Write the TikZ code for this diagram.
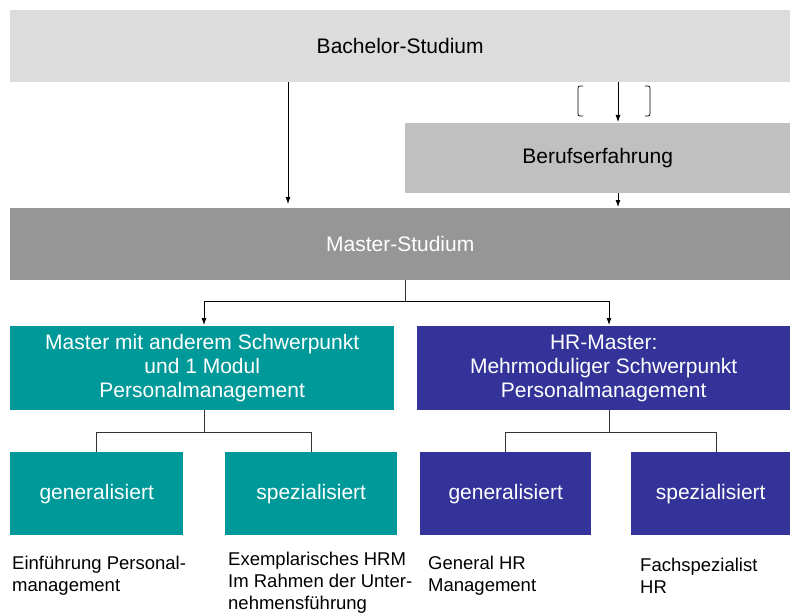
\documentclass[tikz,border=0pt]{standalone}
\usepackage{fontspec}
\setmainfont{Liberation Sans}
\usetikzlibrary{arrows.meta}
\definecolor{bachgray}{HTML}{DCDCDC}
\definecolor{berufgray}{HTML}{C0C0C0}
\definecolor{mastergray}{HTML}{969696}
\definecolor{tealbox}{HTML}{009999}
\definecolor{bluebox}{HTML}{333399}
\tikzset{
  box/.style={anchor=north west, inner sep=0pt, align=center,
    font=\fontsize{21}{24}\selectfont},
  lbl/.style={anchor=base west, inner sep=0pt, align=left,
    font=\fontsize{18.5}{22}\selectfont},
  arr/.style={-{Latex[length=7pt,width=5pt]}, line width=0.8pt},
  link/.style={line width=0.8pt, draw=black!80}
}
\begin{document}
\begin{tikzpicture}[x=1pt, y=-1pt]
  \useasboundingbox (0,0) rectangle (790,615);
  % boxes
  \node[box, fill=bachgray, minimum width=780pt, minimum height=72pt] (bach) at (10,10) {Bachelor-Studium};
  \node[box, fill=berufgray, minimum width=385pt, minimum height=70pt] (beruf) at (405,123) {Berufserfahrung};
  \node[box, fill=mastergray, text=white, minimum width=780pt, minimum height=72pt] (master) at (10,208) {Master-Studium};
  \node[box, fill=tealbox, text=white, minimum width=384pt, minimum height=84pt] (teal) at (10,326)
    {Master mit anderem Schwerpunkt\\und 1 Modul\\Personalmanagement};
  \node[box, fill=bluebox, text=white, minimum width=373pt, minimum height=84pt] (blue) at (417,326)
    {HR-Master:\\Mehrmoduliger Schwerpunkt\\Personalmanagement};
  \node[box, fill=tealbox, text=white, minimum width=173pt, minimum height=83pt] (tg) at (10,452) {generalisiert};
  \node[box, fill=tealbox, text=white, minimum width=172pt, minimum height=83pt] (ts) at (225,452) {spezialisiert};
  \node[box, fill=bluebox, text=white, minimum width=171pt, minimum height=83pt] (bg) at (420,452) {generalisiert};
  \node[box, fill=bluebox, text=white, minimum width=159pt, minimum height=83pt] (bs) at (631,452) {spezialisiert};
  % labels (placed at the baseline of their last line)
  \node[lbl] (tgl) at (12,591) {Einführung Personal-\\management};
  \node[lbl] (tsl) at (228,609) {Exemplarisches HRM\\Im Rahmen der Unter-\\nehmensführung};
  \node[lbl] (bgl) at (428,591) {General HR\\Management};
  \node[lbl] (bsl) at (640,593) {Fachspezialist\\HR};
  % connectors
  \coordinate (c1) at (288,0);
  \coordinate (c2) at (618,0);
  \draw[arr, shorten >=4pt] (bach.south -| c1) -- (master.north -| c1);
  \draw[arr, shorten >=1pt] (bach.south -| c2) -- (beruf.north -| c2);
  \draw[arr, shorten >=1pt] (beruf.south -| c2) -- (master.north -| c2);
  \draw[line width=0.7pt, rounded corners=2pt] (583,86) -- (578,86) -- (578,116) -- (583,116);
  \draw[line width=0.7pt, rounded corners=2pt] (645,86) -- (650,86) -- (650,116) -- (645,116);
  \coordinate (split) at (405,301);
  \coordinate (c3) at (204,0);
  \coordinate (c4) at (609,0);
  \draw[link] (master.south -| split) -- (split);
  \draw[arr, shorten >=1pt] (split) -| (teal.north -| c3);
  \draw[arr, shorten >=1pt] (split) -| (blue.north -| c4);
  \coordinate (tsplit) at (204,432);
  \coordinate (bsplit) at (609,432);
  \coordinate (c5) at (716,0);
  \draw[link] (teal.south -| tsplit) -- (tsplit);
  \draw[link] (tsplit) -| (tg.north);
  \draw[link] (tsplit) -| (ts.north);
  \draw[link] (blue.south -| bsplit) -- (bsplit);
  \draw[link] (bsplit) -| (bg.north);
  \draw[link] (bsplit) -| (bs.north -| c5);
\end{tikzpicture}
\end{document}
